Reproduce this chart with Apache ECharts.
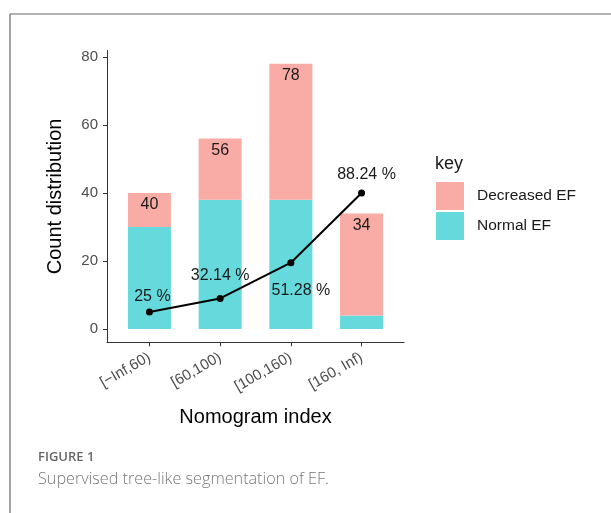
<!DOCTYPE html>
<html>
<head>
<meta charset="utf-8">
<script src="https://cdn.jsdelivr.net/npm/echarts@6/dist/echarts.min.js"></script>
<style>
  html, body { margin: 0; padding: 0; background: #fff; }
  #chart { width: 611px; height: 513px; }
</style>
</head>
<body>
<div id="chart"></div>
<script>
// categories of the nomogram index
var categories = ["[\u2212Inf,60)", "[60,100)", "[100,160)", "[160, Inf)"];
// stacked counts
var normalEF = [30, 38, 38, 4];
var decreasedEF = [10, 18, 40, 30];
// black line (drawn on the count scale)
var lineValues = [5, 9, 19.5, 40];
// tick positions / labels
var yTicks = [0, 20, 40, 60, 80];
var xTicks = [0, 1, 2, 3];

var totals = normalEF.map(function (v, i) { return v + decreasedEF[i]; });
var pct = decreasedEF.map(function (v, i) { return parseFloat((v / totals[i] * 100).toFixed(2)); });

// where each percent label sits relative to its point
var pctOffsets = [[3, -15], [0, -23], [10, 28], [5, -18]];

var font = "Liberation Sans, Arial, sans-serif";
var chart = echarts.init(document.getElementById("chart"));

var option = {
  animation: false,
  textStyle: { fontFamily: font },
  grid: { left: 107, right: 207, top: 50.5, bottom: 170.7 },
  title: [
    { text: "key", left: 435, top: 155, padding: 0, textStyle: { fontSize: 18, fontWeight: "normal", color: "#1a1a1a", fontFamily: font } }
  ],
  legend: {
    orient: "vertical",
    left: 436,
    top: 182,
    padding: 0,
    itemWidth: 28,
    itemHeight: 28,
    itemGap: 2,
    icon: "rect",
    data: ["Decreased EF", "Normal EF"],
    textStyle: { fontSize: 15.5, color: "#1a1a1a", padding: [0, 0, 0, 8] }
  },
  xAxis: {
    type: "value",
    min: -0.6,
    max: 3.6,
    name: "Nomogram index",
    nameLocation: "middle",
    nameGap: 65,
    nameTextStyle: { fontSize: 20, color: "#000" },
    axisLine: { show: true, onZero: false, lineStyle: { color: "#333", width: 1 } },
    axisTick: { show: true, customValues: xTicks, length: 4, lineStyle: { color: "#333" } },
    axisLabel: {
      customValues: xTicks,
      rotate: 30,
      margin: 14,
      fontSize: 15,
      color: "#4d4d4d",
      formatter: function (v) { return categories[Math.round(v)]; }
    },
    splitLine: { show: false }
  },
  yAxis: {
    type: "value",
    min: -3.9,
    max: 81.9,
    name: "Count distribution",
    nameLocation: "middle",
    nameGap: 42,
    nameTextStyle: { fontSize: 20, color: "#000" },
    axisLine: { show: true, onZero: false, lineStyle: { color: "#333", width: 1 } },
    axisTick: { show: true, customValues: yTicks, length: 4, lineStyle: { color: "#333" } },
    axisLabel: { customValues: yTicks, margin: 9, fontSize: 15, color: "#4d4d4d" },
    splitLine: { show: false }
  },
  series: [
    {
      name: "Normal EF",
      type: "bar",
      stack: "ef",
      barWidth: 43,
      encode: { x: 1, y: 0 },
      itemStyle: { color: "#65d9db" },
      data: normalEF.map(function (v, i) { return [v, xTicks[i]]; })
    },
    {
      name: "Decreased EF",
      type: "bar",
      stack: "ef",
      barWidth: 43,
      encode: { x: 1, y: 0 },
      itemStyle: { color: "#f9aba5" },
      label: {
        show: true,
        position: "insideTop",
        distance: 4,
        fontSize: 16,
        color: "#1a1a1a",
        formatter: function (p) { return totals[p.dataIndex]; }
      },
      data: decreasedEF.map(function (v, i) { return [v, xTicks[i]]; })
    },
    {
      name: "pct",
      type: "line",
      symbol: "circle",
      symbolSize: 7,
      z: 5,
      itemStyle: { color: "#000" },
      lineStyle: { color: "#000", width: 2 },
      data: lineValues.map(function (v, i) {
        return {
          value: [xTicks[i], v],
          label: {
            show: true,
            position: "inside",
            offset: pctOffsets[i],
            fontSize: 16,
            color: "#1a1a1a",
            formatter: pct[i] + " %"
          }
        };
      })
    }
  ],
  graphic: [
    { type: "line", shape: { x1: 10, y1: 14, x2: 611, y2: 14 }, style: { stroke: "#666", lineWidth: 1.2 } },
    { type: "line", shape: { x1: 10, y1: 14, x2: 10, y2: 513 }, style: { stroke: "#666", lineWidth: 1.2 } },
    { type: "text", left: 38, top: 451, style: { text: "FIGURE 1", font: "600 13px 'Open Sans', sans-serif", fill: "#666" } },
    { type: "text", left: 38, top: 471, style: { text: "Supervised tree-like segmentation of EF.", font: "300 16.2px 'Open Sans', sans-serif", fill: "#777" } }
  ]
};

chart.setOption(option);
</script>
</body>
</html>
